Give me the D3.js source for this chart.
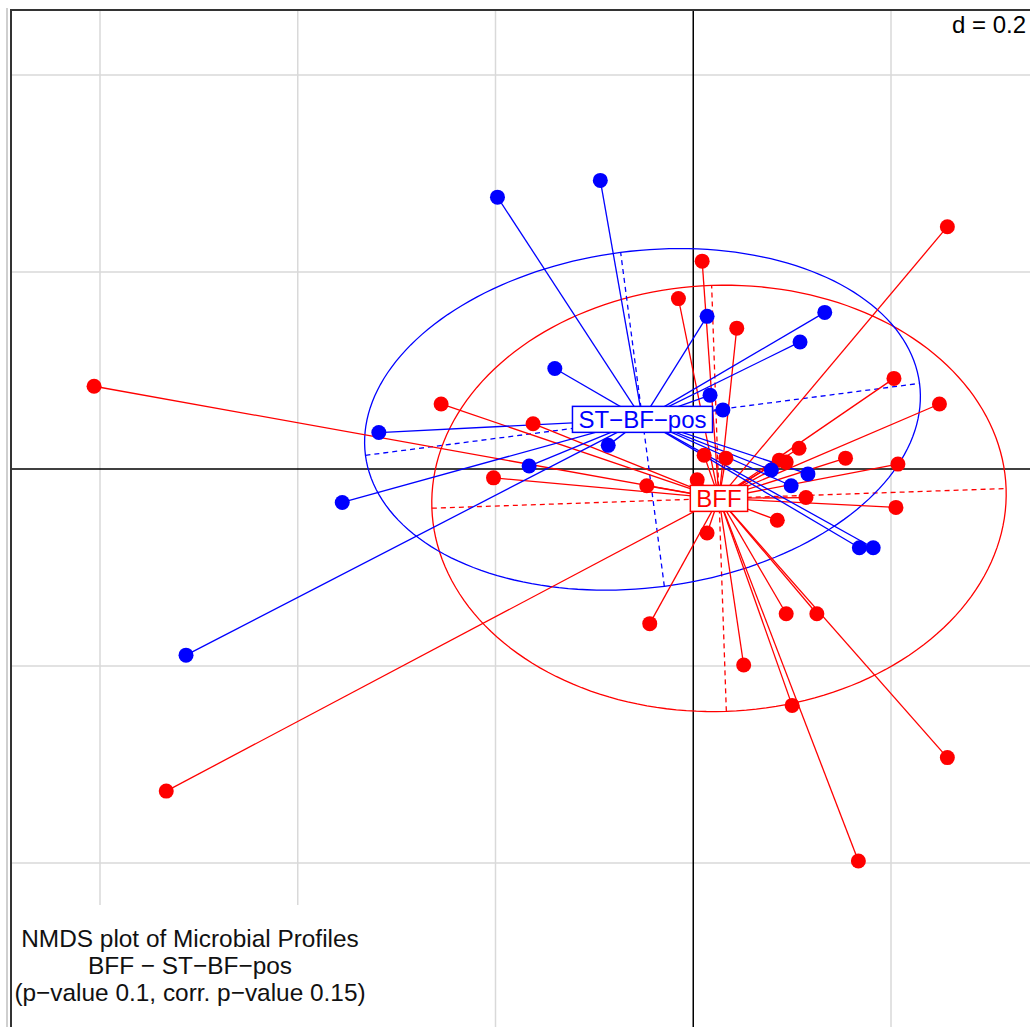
<!DOCTYPE html>
<html lang="en">
<head>
  <meta charset="utf-8">
  <title>NMDS plot</title>
  <script src="https://d3js.org/d3.v7.min.js"></script>
  <style>
    body { margin: 0; background: #fff; }
    svg text { font-family: "Liberation Sans", Arial, sans-serif; }
  </style>
</head>
<body>
<script>
  // NMDS coordinates (axis 1, axis 2)
  var bffX = [0.257, 0.009, -0.015, 0.044, 0.203, 0.249, -0.606, -0.255, -0.162, -0.202,
              -0.047, 0.011, 0.033, 0.107, 0.087, 0.094, 0.154, 0.207, 0.114, 0.205,
              0.085, 0.014, 0.004, -0.044, 0.094, 0.125, 0.051, 0.100, 0.257, 0.167, -0.533];
  var bffY = [0.246, 0.211, 0.173, 0.143, 0.092, 0.066, 0.084, 0.066, 0.046, -0.009,
              -0.017, 0.014, 0.011, 0.021, 0.009, 0.007, 0.011, 0.005, -0.029, -0.039,
              -0.052, -0.065, -0.011, -0.157, -0.147, -0.147, -0.199, -0.240, -0.293, -0.398, -0.327];
  var stX = [-0.198, -0.094, 0.014, 0.133, 0.108, -0.140, 0.017, 0.030, -0.318, -0.086,
             -0.166, -0.355, -0.513, 0.116, 0.099, 0.168, 0.182, 0.079];
  var stY = [0.276, 0.293, 0.155, 0.159, 0.129, 0.102, 0.075, 0.060, 0.037, 0.024,
             0.003, -0.034, -0.189, -0.005, -0.017, -0.080, -0.080, -0.001];

  var groups = ["BFF", "ST-BF-pos"];
  var groupColors = ["#ff0000", "#0000ff"];
  var gridTicks = [-0.6, -0.4, -0.2, 0, 0.2, 0.4, 0.6];
  var titleLines = ["NMDS plot of Microbial Profiles", "BFF - ST-BF-pos",
                    "(p-value 0.1, corr. p-value 0.15)"];
  var scaleLabel = "d = 0.2";
  var cellipse = 1.46;

  // R's device draws '-' as a minus sign
  function rtxt(s) { return s.replace(/-/g, "\u2212"); }

  var width = 1030, height = 1027;

  var svg = d3.select("body").append("svg")
              .attr("width", width)
              .attr("height", height);

  var x = d3.scaleLinear().domain([-0.6, 0.2]).range([100, 891]);
  var y = d3.scaleLinear().domain([0.4, -0.4]).range([75, 863]);

  // group table built from the arrays
  var data = [
    { name: groups[0], color: groupColors[0], pts: bffX.map((v, i) => [v, bffY[i]]) },
    { name: groups[1], color: groupColors[1], pts: stX.map((v, i) => [v, stY[i]]) }
  ];

  // centroid + covariance ellipse like ade4 s.class
  data.forEach(function(g) {
    var n = g.pts.length;
    var mx = d3.mean(g.pts, d => d[0]), my = d3.mean(g.pts, d => d[1]);
    var vx = d3.sum(g.pts, d => (d[0] - mx) * (d[0] - mx)) / n;
    var vy = d3.sum(g.pts, d => (d[1] - my) * (d[1] - my)) / n;
    var cxy = d3.sum(g.pts, d => (d[0] - mx) * (d[1] - my)) / n;
    var tr = vx + vy, det = vx * vy - cxy * cxy;
    var disc = Math.sqrt(tr * tr / 4 - det);
    var l1 = tr / 2 + disc, l2 = tr / 2 - disc;
    var th = 0.5 * Math.atan2(2 * cxy, vx - vy);
    g.cx = mx; g.cy = my;
    g.a = cellipse * Math.sqrt(l1); g.b = cellipse * Math.sqrt(l2); g.th = th;
    g.ell = d3.range(0, 361, 2).map(function(t) {
      var r = t * Math.PI / 180;
      var u = g.a * Math.cos(r), v = g.b * Math.sin(r);
      return [mx + u * Math.cos(th) - v * Math.sin(th), my + u * Math.sin(th) + v * Math.cos(th)];
    });
    var c = Math.cos(th), s = Math.sin(th);
    g.axes = [
      [[mx - g.a * c, my - g.a * s], [mx + g.a * c, my + g.a * s]],
      [[mx + g.b * s, my - g.b * c], [mx - g.b * s, my + g.b * c]]
    ];
  });

  // frame
  svg.append("line").attr("x1", 7).attr("x2", 7).attr("y1", 8).attr("y2", height)
     .attr("stroke", "#cfcfcf").attr("stroke-width", 2);

  // grid
  svg.append("g").selectAll("line")
     .data(gridTicks.filter(d => d !== 0))
     .join("line")
     .attr("x1", d => x(d)).attr("x2", d => x(d))
     .attr("y1", 10).attr("y2", height)
     .attr("stroke", "#d9d9d9").attr("stroke-width", 1.5);
  svg.append("g").selectAll("line")
     .data(gridTicks.filter(d => d !== 0))
     .join("line")
     .attr("y1", d => y(d)).attr("y2", d => y(d))
     .attr("x1", 11).attr("x2", width)
     .attr("stroke", "#d9d9d9").attr("stroke-width", 1.5);

  // axes through origin
  svg.append("line").attr("x1", x(0)).attr("x2", x(0)).attr("y1", 10).attr("y2", height)
     .attr("stroke", "#000").attr("stroke-width", 1.5);
  svg.append("line").attr("y1", y(0)).attr("y2", y(0)).attr("x1", 11).attr("x2", width)
     .attr("stroke", "#000").attr("stroke-width", 1.5);

  var line = d3.line().x(d => x(d[0])).y(d => y(d[1]));

  // ellipses and their axes
  data.forEach(function(g) {
    svg.append("path").attr("d", line(g.ell))
       .attr("fill", "none").attr("stroke", g.color).attr("stroke-width", 1.3);
    svg.append("g").selectAll("path").data(g.axes).join("path")
       .attr("d", line)
       .attr("fill", "none").attr("stroke", g.color).attr("stroke-width", 1.3)
       .attr("stroke-dasharray", "5,4");
  });

  // stars
  data.forEach(function(g) {
    svg.append("g").selectAll("line").data(g.pts).join("line")
       .attr("x1", x(g.cx)).attr("y1", y(g.cy))
       .attr("x2", d => x(d[0])).attr("y2", d => y(d[1]))
       .attr("stroke", g.color).attr("stroke-width", 1.3);
  });

  // points
  data.forEach(function(g) {
    svg.append("g").selectAll("circle").data(g.pts).join("circle")
       .attr("cx", d => x(d[0])).attr("cy", d => y(d[1]))
       .attr("r", 7.5).attr("fill", g.color);
  });

  // class labels
  data.forEach(function(g) {
    var lab = svg.append("g");
    var t = lab.append("text")
       .attr("x", x(g.cx)).attr("y", y(g.cy) + 8.5)
       .attr("text-anchor", "middle")
       .attr("font-size", 24)
       .attr("fill", g.color)
       .text(rtxt(g.name));
    var bb = t.node().getBBox();
    lab.insert("rect", "text")
       .attr("x", bb.x - 6).attr("y", bb.y + 0.5)
       .attr("width", bb.width + 12).attr("height", bb.height - 1)
       .attr("fill", "#fff").attr("stroke", g.color).attr("stroke-width", 1.5);
  });

  // scale label
  var dl = svg.append("g");
  var dt = dl.append("text").attr("x", 1026).attr("y", 33)
     .attr("text-anchor", "end").attr("font-size", 24).attr("fill", "#000")
     .text(scaleLabel);
  var db = dt.node().getBBox();
  dl.insert("rect", "text").attr("x", db.x - 3).attr("y", db.y)
     .attr("width", db.width + 6).attr("height", db.height).attr("fill", "#fff");

  // subtitle on a white box
  var sub = svg.append("g");
  sub.append("rect").attr("x", 13).attr("y", 905).attr("width", 355).attr("height", height - 905)
     .attr("fill", "#fff");
  sub.selectAll("text").data(titleLines).join("text")
     .attr("x", 190).attr("y", (d, i) => 947 + i * 27)
     .attr("text-anchor", "middle")
     .attr("font-size", 24.4)
     .attr("fill", "#111")
     .text(d => rtxt(d));

  // frame on top
  svg.append("rect").attr("x", 11).attr("y", 10).attr("width", width + 50).attr("height", height + 50)
     .attr("fill", "none").attr("stroke", "#333").attr("stroke-width", 2);
</script>
</body>
</html>
